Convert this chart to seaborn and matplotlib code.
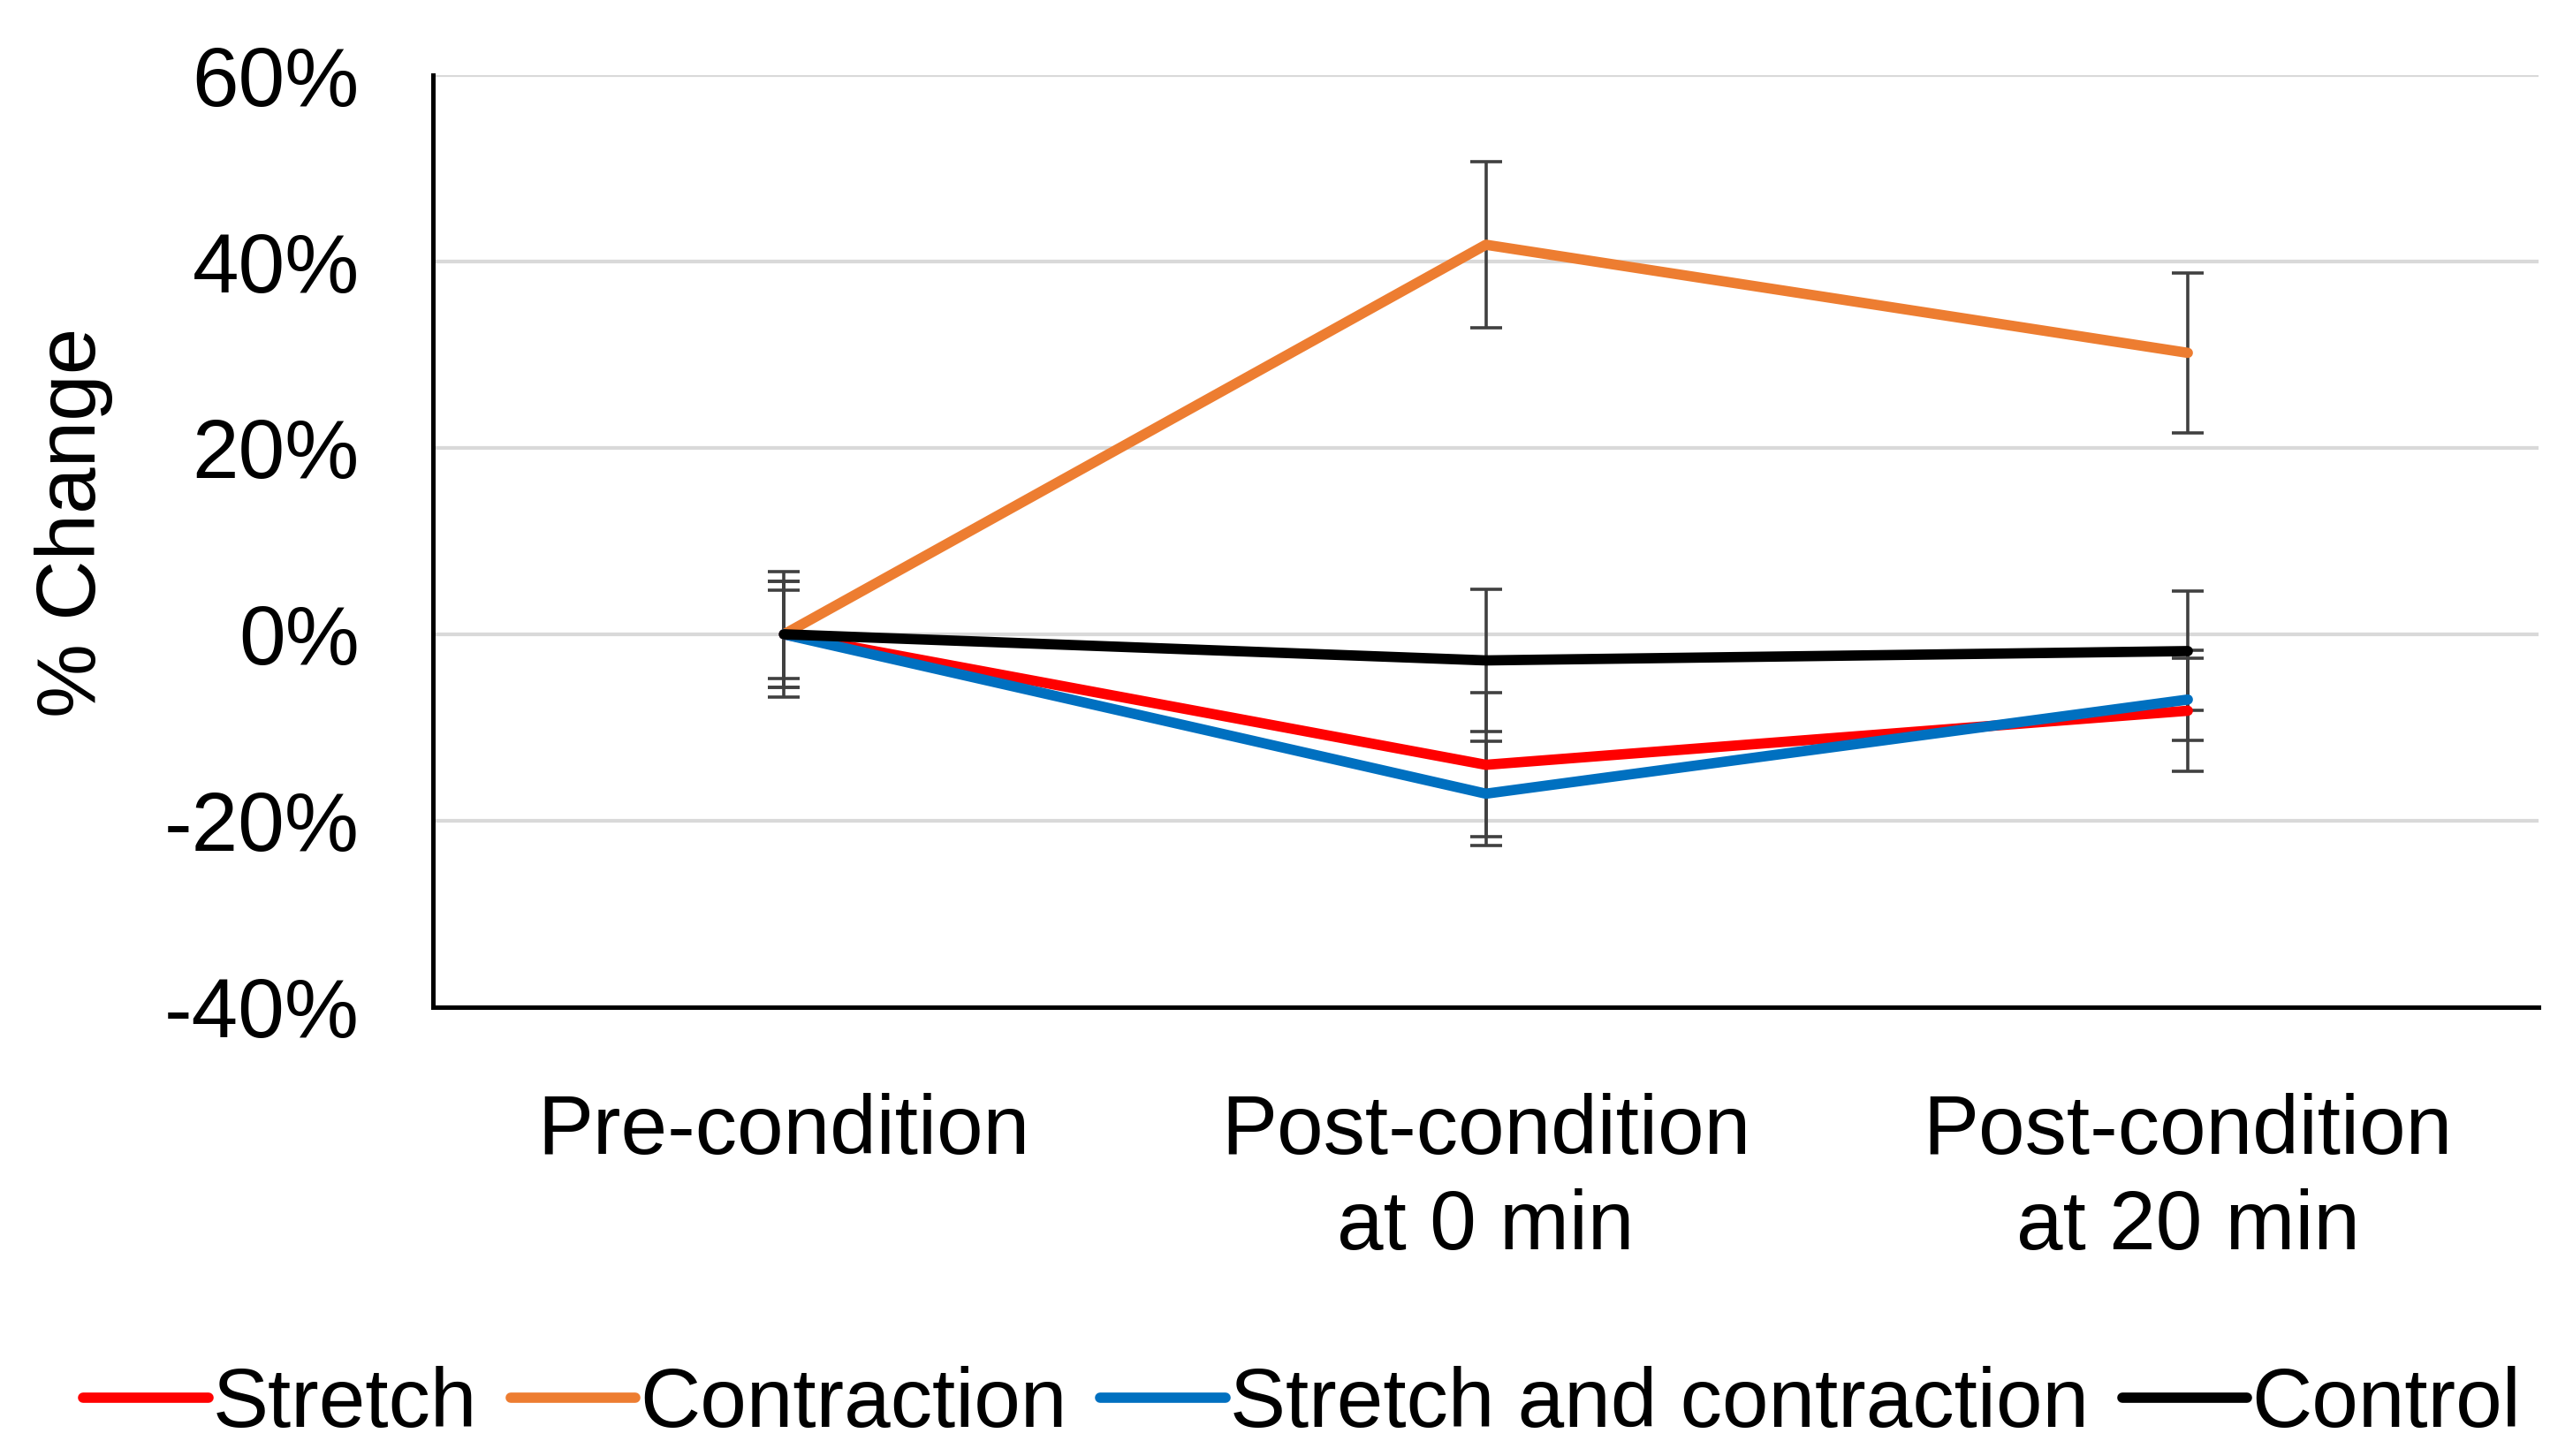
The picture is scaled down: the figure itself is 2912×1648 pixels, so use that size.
import matplotlib
matplotlib.use("Agg")
import matplotlib.pyplot as plt
import pandas as pd
import seaborn as sns

# categories on the x axis
timepoints = ["Pre-condition", "Post-condition\nat 0 min", "Post-condition\nat 20 min"]

# mean % change per group (fraction)
stretch = [0.0, -0.140, -0.082]
contraction = [0.0, 0.418, 0.302]
stretch_contraction = [0.0, -0.171, -0.070]
control = [0.0, -0.028, -0.018]

# error bar half-widths
stretch_err = [0.057, 0.077, 0.065]
contraction_err = [0.067, 0.089, 0.086]
stretch_contraction_err = [0.047, 0.056, 0.044]
control_err = [0.057, 0.076, 0.064]

groups = ["Stretch", "Contraction", "Stretch and contraction", "Control"]
colors = ["#FF0000", "#ED7D31", "#0070C0", "#000000"]

means = [stretch, contraction, stretch_contraction, control]
errs = [stretch_err, contraction_err, stretch_contraction_err, control_err]

rows = []
for g, m, e in zip(groups, means, errs):
    for i, t in enumerate(timepoints):
        rows.append({"time": t, "pos": i, "group": g, "value": m[i], "err": e[i]})
df = pd.DataFrame(rows)

sns.set_theme(style="white")
plt.rcParams["font.family"] = ["Liberation Sans", "DejaVu Sans"]
plt.rcParams["text.color"] = "black"

fig = plt.figure(figsize=(14.56, 8.24), dpi=200)
ax = fig.add_axes([0.1683, 0.3083, 0.8184, 0.6401])

# error bars first, lines on top
for g in groups:
    sub = df[df["group"] == g]
    ax.errorbar(sub["pos"], sub["value"], yerr=sub["err"], fmt="none",
                ecolor="#404040", elinewidth=1.3, capsize=6.5, capthick=1.3, zorder=2)

sns.lineplot(data=df, x="pos", y="value", hue="group", hue_order=groups,
             palette=colors, linewidth=4.2, ax=ax, legend=False, zorder=3)

ax.set_xlim(-0.5, 2.5)
ax.set_ylim(-0.4, 0.6)
ax.set_yticks([-0.4, -0.2, 0.0, 0.2, 0.4, 0.6])
ax.set_yticklabels([f"{int(round(v * 100))}%" for v in ax.get_yticks()])
ax.set_xticks(range(len(timepoints)))
ax.set_xticklabels(timepoints, linespacing=1.28)

ax.grid(axis="y", color="#d9d9d9", linewidth=1.5, zorder=0)
ax.grid(axis="x", visible=False)
for s in ["top", "right"]:
    ax.spines[s].set_visible(False)
for s in ["left", "bottom"]:
    ax.spines[s].set_color("#000000")
    ax.spines[s].set_linewidth(1.8)

ax.tick_params(axis="y", length=0, pad=30, labelsize=34, labelcolor="black")
ax.tick_params(axis="x", length=0, pad=35, labelsize=34, labelcolor="black")

ax.set_xlabel("")
ax.set_ylabel("% Change", fontsize=34, color="black")
ax.yaxis.set_label_coords(-0.152, 0.52)

handles = [plt.Line2D([0], [0], color=c, linewidth=4.2) for c in colors]
leg = fig.legend(handles, groups, loc="center", bbox_to_anchor=(0.506, 0.0346), ncol=4,
                 frameon=False, fontsize=34, handlelength=1.5, handletextpad=0.05,
                 columnspacing=0.4, borderaxespad=0)
for t in leg.get_texts():
    t.set_color("black")

fig.savefig("out.png", dpi=200, facecolor="white")
